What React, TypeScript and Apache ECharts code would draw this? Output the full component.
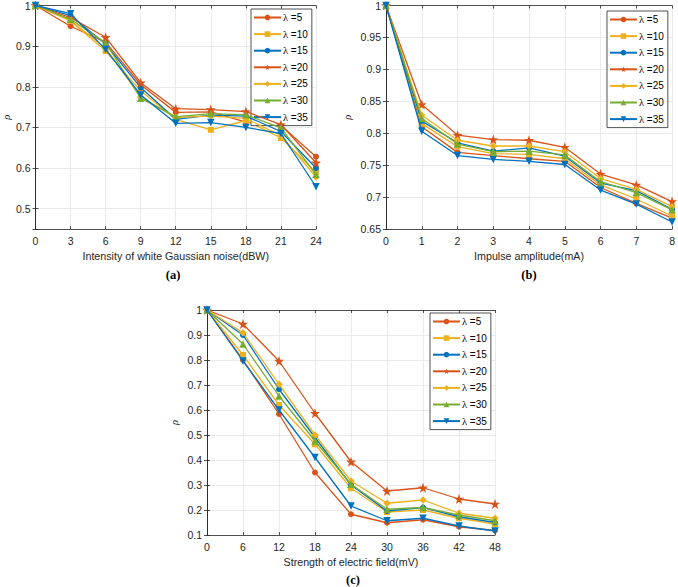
import React, { useEffect, useRef } from "react";
import * as echarts from "echarts";

const names = ["λ =5", "λ =10", "λ =15", "λ =20", "λ =25", "λ =30", "λ =35"];
const colors = ["#D95319", "#EDB120", "#0072BD", "#D95319", "#EDB120", "#77AC30", "#0072BD"];
const STAR =
  "path://M0,-10 L2.35,-3.24 L9.51,-3.09 L3.8,1.24 L5.88,8.09 L0,4 L-5.88,8.09 L-3.8,1.24 L-9.51,-3.09 L-2.35,-3.24 Z";
const symbols = ["circle", "rect", "circle", STAR, "diamond", "triangle", "triangle"];
const symbolSizes = [6, 6, 6, 10, 7.5, 7.5, 7.5];
const symbolRotates = [0, 0, 0, 0, 0, 0, 180];

// (a) white Gaussian noise
const xA = [0, 3, 6, 9, 12, 15, 18, 21, 24];
const a5 = [1, 0.949, 0.91, 0.805, 0.737, 0.738, 0.713, 0.705, 0.628];
const a10 = [1, 0.962, 0.888, 0.79, 0.72, 0.694, 0.717, 0.674, 0.59];
const a15 = [1, 0.975, 0.905, 0.798, 0.72, 0.73, 0.728, 0.69, 0.6];
const a20 = [1, 0.97, 0.922, 0.81, 0.746, 0.744, 0.739, 0.707, 0.613];
const a25 = [1, 0.963, 0.895, 0.775, 0.725, 0.728, 0.722, 0.68, 0.578];
const a30 = [1, 0.966, 0.908, 0.772, 0.726, 0.734, 0.731, 0.699, 0.584];
const a35 = [1, 0.98, 0.892, 0.78, 0.71, 0.712, 0.7, 0.685, 0.554];

// (b) impulse amplitude
const xB = [0, 1, 2, 3, 4, 5, 6, 7, 8];
const b5 = [1, 0.81, 0.77, 0.765, 0.76, 0.756, 0.715, 0.69, 0.667];
const b10 = [1, 0.815, 0.779, 0.768, 0.767, 0.76, 0.719, 0.697, 0.67];
const b15 = [1, 0.819, 0.785, 0.772, 0.777, 0.764, 0.722, 0.71, 0.681];
const b20 = [1, 0.845, 0.797, 0.79, 0.789, 0.778, 0.736, 0.719, 0.693];
const b25 = [1, 0.828, 0.789, 0.78, 0.78, 0.771, 0.729, 0.712, 0.685];
const b30 = [1, 0.823, 0.783, 0.771, 0.772, 0.766, 0.724, 0.707, 0.68];
const b35 = [1, 0.803, 0.765, 0.759, 0.756, 0.751, 0.711, 0.689, 0.661];

// (c) electric field
const xC = [0, 6, 12, 18, 24, 30, 36, 42, 48];
const c5 = [1, 0.8, 0.584, 0.35, 0.183, 0.149, 0.161, 0.133, 0.118];
const c10 = [1, 0.82, 0.62, 0.463, 0.287, 0.192, 0.2, 0.167, 0.144];
const c15 = [1, 0.9, 0.683, 0.49, 0.3, 0.196, 0.21, 0.173, 0.15];
const c20 = [1, 0.944, 0.796, 0.587, 0.393, 0.276, 0.289, 0.244, 0.224];
const c25 = [1, 0.909, 0.703, 0.5, 0.316, 0.227, 0.24, 0.187, 0.167];
const c30 = [1, 0.864, 0.656, 0.476, 0.303, 0.203, 0.21, 0.18, 0.157];
const c35 = [1, 0.796, 0.6, 0.41, 0.216, 0.157, 0.167, 0.136, 0.116];

const setA = [a5, a10, a15, a20, a25, a30, a35];
const setB = [b5, b10, b15, b20, b25, b30, b35];
const setC = [c5, c10, c15, c20, c25, c30, c35];

const FONT = "Liberation Sans";
const AX = "#262626";
const GRIDC = "#e4e4e4";

function fmt(v: number) {
  return String(Number(v.toFixed(3)));
}

function xAxes(gridIndex: number, max: number, interval: number, name: string, nameGap: number) {
  const common = {
    type: "value",
    gridIndex,
    min: 0,
    max,
    interval,
    axisLine: { show: true, lineStyle: { color: AX, width: 0.8 } },
    axisTick: { show: true, inside: true, length: 3, lineStyle: { color: AX, width: 0.8 } },
  };
  return [
    {
      ...common,
      position: "bottom",
      name,
      nameLocation: "middle",
      nameGap,
      nameTextStyle: { color: AX, fontFamily: FONT, fontSize: 10.7 },
      axisLabel: { color: AX, fontFamily: FONT, fontSize: 10.5, margin: 6 },
      splitLine: { show: true, lineStyle: { color: GRIDC, width: 0.8 } },
    },
    {
      ...common,
      position: "top",
      axisLabel: { show: false },
      splitLine: { show: false },
    },
  ];
}

function yAxes(gridIndex: number, cfg: any, nameGap: number) {
  const common = {
    type: "value",
    gridIndex,
    ...cfg,
    axisLine: { show: true, lineStyle: { color: AX, width: 0.8 } },
    axisTick: { show: true, inside: true, length: 3, lineStyle: { color: AX, width: 0.8 } },
  };
  return [
    {
      ...common,
      position: "left",
      name: "ρ",
      nameLocation: "middle",
      nameRotate: 90,
      nameGap,
      nameTextStyle: { color: AX, fontFamily: "Liberation Serif", fontStyle: "italic", fontSize: 10.5 },
      axisLabel: {
        color: AX,
        fontFamily: FONT,
        fontSize: 10.5,
        margin: 5,
        formatter: (v: number) => (cfg.hideBelow !== undefined && v < cfg.hideBelow ? "" : fmt(v)),
      },
      splitLine: { show: true, lineStyle: { color: GRIDC, width: 0.8 } },
    },
    {
      ...common,
      position: "right",
      axisLabel: { show: false },
      splitLine: { show: false },
    },
  ];
}

function seriesFor(xs: number[], set: number[][], axisIndex: number) {
  return set.map((vals, i) => ({
    type: "line",
    name: names[i],
    xAxisIndex: axisIndex,
    yAxisIndex: axisIndex,
    data: xs.map((x, j) => [x, vals[j]]),
    symbol: symbols[i],
    symbolSize: symbolSizes[i],
    symbolRotate: symbolRotates[i],
    showAllSymbol: true,
    color: colors[i],
    lineStyle: { color: colors[i], width: 1.3 },
    itemStyle: { color: colors[i] },
    z: 2 + i,
  }));
}

function legendAt(left: number, top: number) {
  return {
    orient: "vertical",
    left,
    top,
    data: names,
    itemWidth: 27,
    itemHeight: 7,
    itemGap: 5.6,
    padding: [3, 4, 3, 2],
    backgroundColor: "#ffffff",
    borderColor: AX,
    borderWidth: 0.8,
    borderRadius: 0,
    formatter: (n: string) => "{l|λ}{t|" + n.slice(1) + "}",
    textStyle: {
      color: "#000",
      fontFamily: FONT,
      fontSize: 10,
      padding: [0, 0, 0, -3],
      rich: {
        l: { fontFamily: "Liberation Serif", fontSize: 10.5, color: "#000" },
        t: { fontFamily: FONT, fontSize: 10, color: "#000" },
      },
    },
    selectedMode: false,
  };
}

function label(text: string, x: number, y: number) {
  return {
    type: "text",
    x,
    y,
    style: {
      text,
      fontFamily: "Liberation Serif",
      fontWeight: "bold",
      fontSize: 12.5,
      fill: "#000",
      align: "center",
      verticalAlign: "middle",
    },
  };
}

export default function App() {
  const ref = useRef<HTMLDivElement>(null);
  useEffect(() => {
    if (!ref.current) return;
    const chart = echarts.init(ref.current, undefined, { renderer: "svg" });
    const option: any = {
      animation: false,
      backgroundColor: "#ffffff",
      grid: [
        { left: 29, top: 5, width: 287, height: 224 },
        { left: 386, top: 5, width: 288, height: 224 },
        { left: 207, top: 310, width: 288, height: 225 },
      ],
      xAxis: [
        ...xAxes(0, 24, 3, "Intensity of white Gaussian noise(dBW)", 21),
        ...xAxes(1, 8, 1, "Impulse amplitude(mA)", 21),
        ...xAxes(2, 48, 6, "Strength of electric field(mV)", 21),
      ],
      yAxis: [
        ...yAxes(0, { min: 0.45, max: 1, minInterval: 0.1, maxInterval: 0.1, splitNumber: 5, hideBelow: 0.46 }, 23),
        ...yAxes(1, { min: 0.65, max: 1, interval: 0.05 }, 33),
        ...yAxes(2, { min: 0.1, max: 1, interval: 0.1 }, 27),
      ],
      legend: [legendAt(251, 9), legendAt(607, 11), legendAt(430, 313)],
      series: [...seriesFor(xA, setA, 0), ...seriesFor(xB, setB, 2), ...seriesFor(xC, setC, 4)],
      graphic: [label("(a)", 173, 275), label("(b)", 529, 275), label("(c)", 353, 580)],
    };
    chart.setOption(option);
    return () => chart.dispose();
  }, []);
  return (
    <div
      ref={ref}
      style={{ position: "absolute", left: 0, top: 0, width: 678, height: 587, background: "#fff" }}
    />
  );
}
